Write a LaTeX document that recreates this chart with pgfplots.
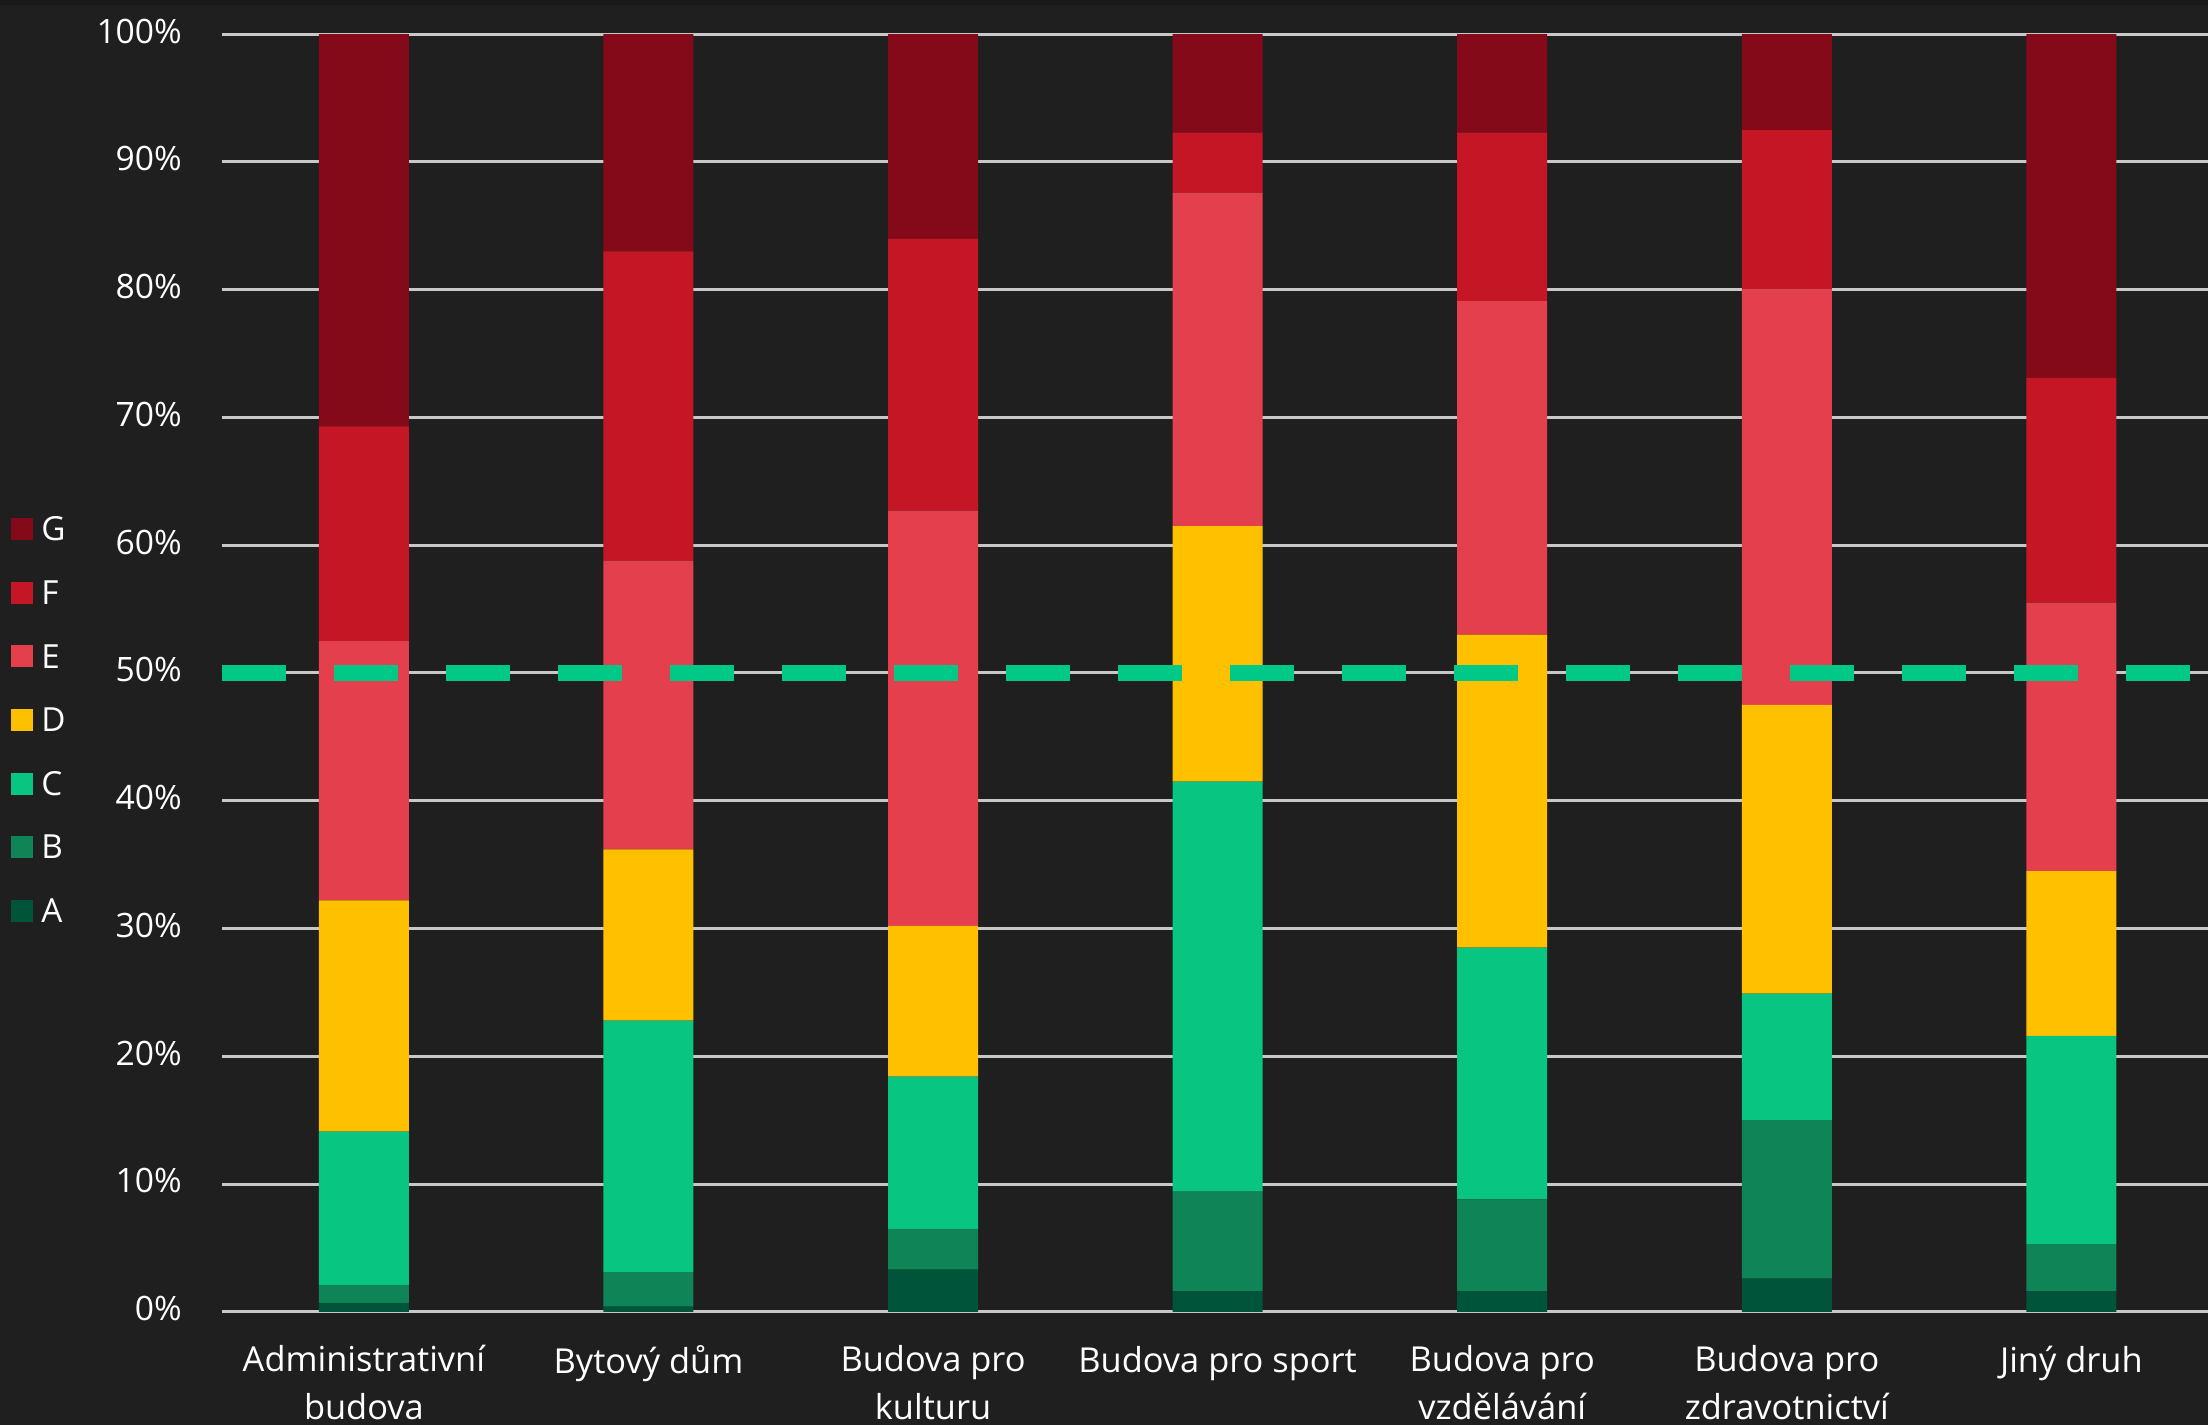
\documentclass[border=0pt]{standalone}
\usepackage{pgfplots}
\pgfplotsset{compat=1.18}
\usepackage{pgfplotstable}
\usepackage{fontspec}
\setmainfont{Open Sans}

\definecolor{bg}{HTML}{1F1F1F}
\definecolor{topbg}{HTML}{191919}
\definecolor{gridc}{HTML}{C8C8C8}
\definecolor{dashc}{HTML}{00C987}
\definecolor{cA}{HTML}{00543A}
\definecolor{cB}{HTML}{0F8456}
\definecolor{cC}{HTML}{08C582}
\definecolor{cD}{HTML}{FFC000}
\definecolor{cE}{HTML}{E43F4C}
\definecolor{cF}{HTML}{C41625}
\definecolor{cG}{HTML}{840A1A}

% energy classes A..G, share in percent per building type
\pgfplotstableread{
x A B C D E F G
0 0.7 1.4 12.0 18.1 20.3 16.8 30.7
1 0.4 2.7 19.7 13.4 22.6 24.2 17.0
2 3.3 3.2 11.9 11.8 32.5 21.3 16.0
3 1.6 7.8 32.1 20.0 26.1 4.7 7.7
4 1.6 7.2 19.7 24.5 26.1 13.2 7.7
5 2.6 12.4 9.9 22.6 32.5 12.5 7.5
6 1.6 3.7 16.3 12.9 21.0 17.6 26.9
}\data

\begin{document}
\begin{tikzpicture}
\fill[bg] (0,0) rectangle (552pt,356.25pt);
\fill[topbg] (0,355.1pt) rectangle (552pt,356.25pt);
\begin{axis}[
    at={(55.4pt,28.3pt)}, anchor=south west,
    scale only axis, width=496.6pt, height=319.4pt,
    ybar stacked, bar width=22.5pt,
    xmin=-0.5, xmax=6.48, ymin=0, ymax=100,
    xtick={0,...,6},
    xticklabels={{Administrativní\\budova},{Bytový dům},{Budova pro\\kulturu},{Budova pro sport},{Budova pro\\vzdělávání},{Budova pro\\zdravotnictví},{Jiný druh}},
    ytick={0,10,...,100},
    yticklabel={\pgfmathprintnumber[assume math mode=true]{\tick}\%},
    ymajorgrids,
    grid style={draw=gridc, line width=0.75pt},
    axis line style={draw=none},
    tick style={draw=none}, major tick length=0pt,
    yticklabel style={font=\fontsize{8.4}{10}\selectfont, text=white, anchor=east, inner sep=0pt, xshift=-9.75pt, yshift=0.8pt},
    xticklabel style={font=\fontsize{8.6}{12}\selectfont, text=white, align=center, anchor=north, inner sep=0pt, yshift=-8.1pt,
      execute at begin node={\rule{0pt}{7pt}}},
    legend image code/.code={\fill[#1] (0pt,-2.75pt) rectangle (5.5pt,2.75pt);},
    reverse legend,
    legend cell align=left,
    legend style={at={(rel axis cs:-0.106,0.6219)}, anchor=north west,
      draw=none, fill=none, inner sep=0pt, outer sep=0pt, row sep=9.97pt,
      font=\fontsize{8.3}{10}\selectfont, text=white,
      nodes={inner sep=0pt, text=white, text height=5.93pt, text depth=0pt},
      /tikz/every odd column/.append style={column sep=2.1pt}},
]
\addplot[fill=cA, draw=none] table[x=x, y=A] {\data};
\addplot[fill=cB, draw=none] table[x=x, y=B] {\data};
\addplot[fill=cC, draw=none] table[x=x, y=C] {\data};
\addplot[fill=cD, draw=none] table[x=x, y=D] {\data};
\addplot[fill=cE, draw=none] table[x=x, y=E] {\data};
\addplot[fill=cF, draw=none] table[x=x, y=F] {\data};
\addplot[fill=cG, draw=none] table[x=x, y=G] {\data};
\legend{A,B,C,D,E,F,G}
\coordinate (refL) at (axis cs:-0.5,50);
\coordinate (refR) at (axis cs:6.48,50);
\end{axis}
% 50 % reference line, drawn over the bars
\draw[dashc, line width=4pt, dash pattern=on 16pt off 12pt] (refL) -- (refR);
\pgfresetboundingbox
\useasboundingbox (0,0) rectangle (552pt,356.25pt);
\end{tikzpicture}
\end{document}
